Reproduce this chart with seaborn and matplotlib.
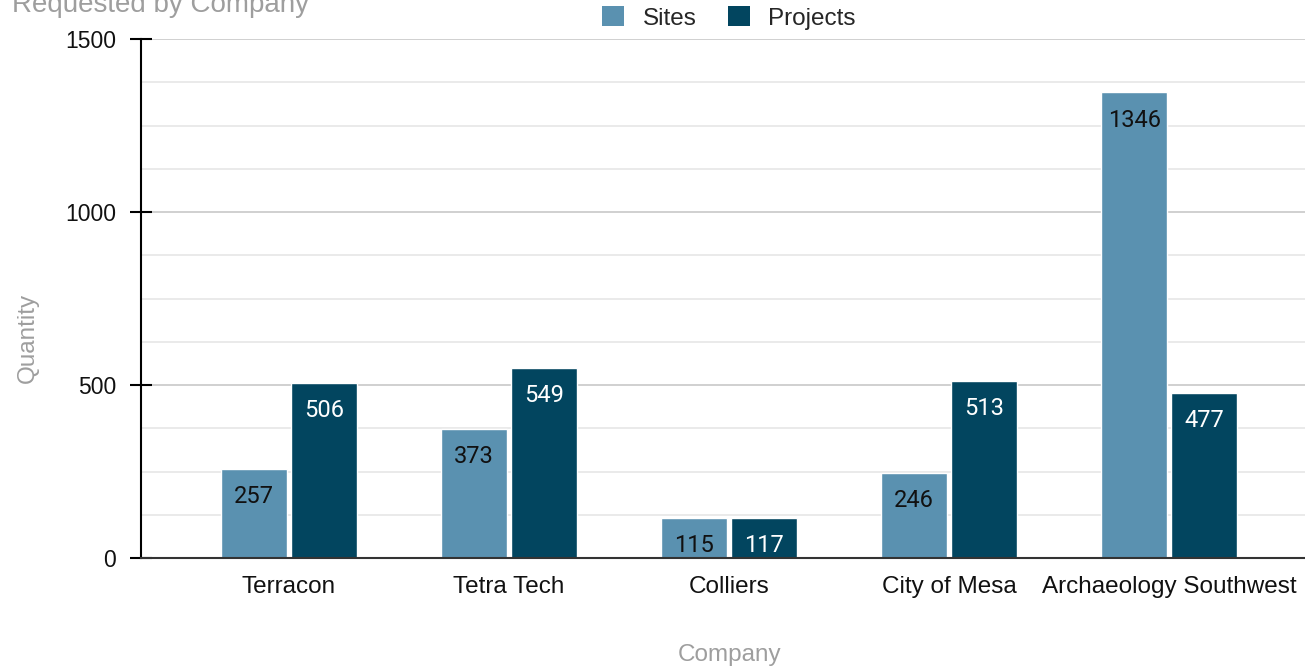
import matplotlib
matplotlib.use("Agg")
import matplotlib.pyplot as plt
import seaborn as sns
import pandas as pd
from matplotlib.patches import Patch
from matplotlib.ticker import MultipleLocator

companies = ["Terracon", "Tetra Tech", "Colliers", "City of Mesa", "Archaeology Southwest"]
sites = [257, 373, 115, 246, 1346]
projects = [506, 549, 117, 513, 477]
series = ["Sites", "Projects"]
colors = ["#5a91b0", "#02455f"]
label_colors = ["#111111", "#ffffff"]

df = pd.DataFrame({
    "Company": companies * 2,
    "Series": ["Sites"] * len(companies) + ["Projects"] * len(companies),
    "Quantity": sites + projects,
})

sns.set_theme(style="white")
plt.rcParams["font.family"] = ["Liberation Sans", "DejaVu Sans"]

fig = plt.figure(figsize=(13.05, 6.69), dpi=100)
ax = fig.add_axes([141 / 1305, 1 - 558 / 669, 1 - 141 / 1305, (558 - 39) / 669])

sns.barplot(data=df, x="Company", y="Quantity", hue="Series", hue_order=series,
            palette=colors, width=0.635, gap=0.055, saturation=1, ax=ax, legend=False)

ax.set_ylim(0, 1500)
ax.set_xlim(-0.673, 4.618)
ax.yaxis.set_major_locator(MultipleLocator(500))
ax.yaxis.set_minor_locator(MultipleLocator(125))
ax.grid(axis="y", which="major", color="#c8c8c8", linewidth=1.2, zorder=0)
ax.grid(axis="y", which="minor", color="#e6e6e6", linewidth=1.2, zorder=0)
ax.set_axisbelow(True)
for s in ["top", "right"]:
    ax.spines[s].set_visible(False)
ax.spines["left"].set_color("#000000")
ax.spines["left"].set_linewidth(1.5)
ax.spines["bottom"].set_color("#333333")
ax.spines["bottom"].set_linewidth(1.5)
ax.tick_params(axis="y", which="major", direction="inout", length=16, width=1.5,
               color="#000000", labelsize=16.5, pad=10, left=True, labelcolor="#111111")
ax.tick_params(axis="y", which="minor", length=0)
ax.tick_params(axis="x", length=0, labelsize=17.5, pad=13, labelcolor="#111111")
ax.set_xlabel("")
ax.set_ylabel("")

for cont, lc in zip(ax.containers, label_colors):
    for bar in cont:
        h = bar.get_height()
        ax.annotate(f"{int(round(h))}", (bar.get_x() + bar.get_width() / 2, h),
                    xytext=(0, -20), textcoords="offset points",
                    ha="center", va="center", fontsize=17, color=lc,
                    family=["Roboto", "DejaVu Sans"])

handles = [Patch(facecolor=c, edgecolor="none", label=s) for s, c in zip(series, colors)]
fig.legend(handles=handles, loc="center", bbox_to_anchor=(729 / 1305, 1 - 18 / 669),
           ncol=2, frameon=False, fontsize=17.5, handlelength=0.9, handleheight=0.9,
           handletextpad=0.75, columnspacing=1.3)

fig.text(730 / 1305, 1 - 655 / 669, "Company", ha="center", va="center",
         fontsize=17.5, color="#9e9e9e")
fig.text(28 / 1305, 1 - 338 / 669, "Quantity", ha="center", va="center",
         rotation=90, fontsize=17.5, color="#9e9e9e")
fig.text(12 / 1305, 1 - 12 / 669, "Requested by Company", ha="left", va="baseline",
         fontsize=20, color="#9e9e9e")

fig.savefig("out.png", dpi=100)
